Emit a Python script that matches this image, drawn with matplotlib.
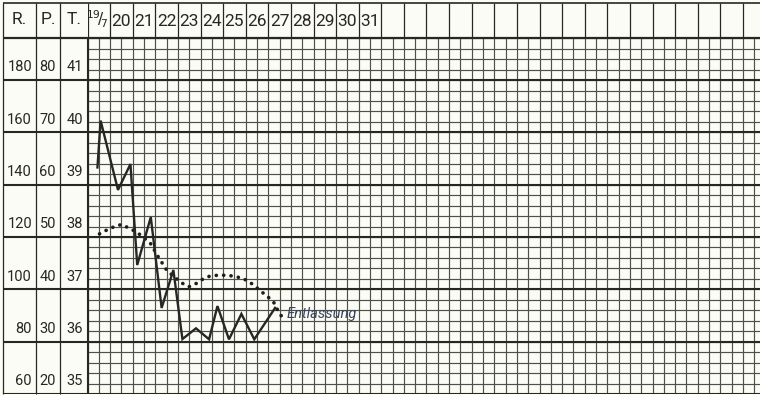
import numpy as np
import matplotlib.pyplot as plt

# header of the sheet
first_col = r'$^{19}\!/\!_{7}$'
day_labels = ['20', '21', '22', '23', '24', '25', '26', '27', '28', '29', '30', '31']
n_cols = 30

# scale columns on the left
r_ticks = [60, 80, 100, 120, 140, 160, 180]
p_ticks = [20, 30, 40, 50, 60, 70, 80]
t_ticks = [35, 36, 37, 38, 39, 40, 41]

# Temperatur (dotted curve); x = days from the start of 19/7
temp_x = [0.53, 0.79, 1.08, 1.50, 1.84, 2.19, 2.77, 3.16, 3.50, 3.83, 4.18, 4.49,
          4.85, 5.15, 5.46, 5.82, 6.17, 6.48, 6.88, 7.30, 7.77, 8.08, 8.30, 8.38, 8.58]
temp_y = [38.06, 38.12, 38.18, 38.24, 38.17, 38.09, 37.89, 37.60, 37.37, 37.24, 37.12, 37.05,
          37.12, 37.21, 37.26, 37.27, 37.27, 37.25, 37.21, 37.10, 36.93, 36.82, 36.72, 36.63, 36.49]

# Puls (solid curve), read on the R scale
puls_x = [0.44, 0.58, 1.35, 1.90, 2.20, 2.80, 3.28, 3.80, 4.20, 4.80, 5.38, 5.75,
          6.26, 6.81, 7.38, 8.30]
puls_r = [146.6, 164.5, 138.0, 147.9, 109.3, 127.6, 92.9, 107.4, 81.0, 85.1, 80.9, 93.6,
          80.9, 90.6, 80.9, 92.9]

note = 'Entlassung'
note_pos = (8.82, 36.53)


def r_to_t(r):
    # R 60..180 sits on T 35..41
    return 35 + (np.asarray(r) - 60) / 20.0


W, H = 760, 395
x0, col_w = 87.5, 22.6        # left edge of the day grid, px per day
y_top, y_head, y_bot = 3, 38.2, 394
t_top = 41.8
t_sheet_top = 35 + (y_bot - y_top) / 52.33

ink = '#28281f'
thin = '#50504a'
paper = '#fcfcf6'
narrow = ['Roboto', 'DejaVu Sans']

fig = plt.figure(figsize=(W / 100, H / 100), dpi=100)
fig.patch.set_facecolor(paper)

# main grid
ax = fig.add_axes([x0 / W, (H - y_bot) / H, (W - x0) / W, (y_bot - y_head) / H])
ax.set_xlim(0, (W - x0) / col_w)
ax.set_ylim(35, t_top)
ax.axis('off')
ax.vlines(np.arange(0, n_cols + 0.01, 0.5), 35, t_top, color=thin, lw=0.85, zorder=1)
ax.hlines(np.arange(35, t_top + 0.01, 0.2), 0, n_cols, color=thin, lw=0.85, zorder=1)
ax.hlines(t_ticks, 0, n_cols, color=ink, lw=1.5, zorder=2)
ax.hlines([t_top], 0, n_cols, color=ink, lw=1.6, zorder=2, clip_on=False)
ax.vlines([0], 35, t_top, color=ink, lw=1.5, zorder=2, clip_on=False)

ax.plot(temp_x, temp_y, color='#1e1e1e', lw=2.6, linestyle=(0, (0.05, 2.0)),
        dash_capstyle='round', zorder=4)
ax.plot(puls_x, r_to_t(puls_r), color='#262626', lw=1.7, solid_joinstyle='miter', zorder=5)
ax.text(note_pos[0], note_pos[1], note, family=narrow, style='italic', fontsize=10.5,
        color='#3a455c', ha='left', va='center', zorder=6)

# day header
axh = fig.add_axes([x0 / W, (H - y_head) / H, (W - x0) / W, (y_head - y_top) / H])
axh.set_xlim(ax.get_xlim())
axh.set_ylim(0, 1)
axh.axis('off')
axh.vlines(np.arange(0, n_cols + 1), 0, 1, color=ink, lw=0.9)
axh.hlines([1], 0, n_cols, color=ink, lw=1.2, clip_on=False)
axh.text(0.45, 0.55, first_col, fontsize=11, color=ink, ha='center', va='center')
for i, lab in enumerate(day_labels):
    axh.text(i + 1.5, 0.48, lab, family=narrow, fontsize=12.5, color=ink,
             ha='center', va='center')

# R / P / T columns
axl = fig.add_axes([y_top / W, (H - y_bot) / H, (x0 - y_top) / W, (y_bot - y_top) / H])
axl.set_xlim(y_top, x0)
axl.set_ylim(35, t_sheet_top)
axl.axis('off')
axl.vlines([y_top, 36, 60], 35, t_sheet_top, color=ink, lw=0.9, clip_on=False)
axl.hlines([t_sheet_top], y_top, x0, color=ink, lw=1.2, clip_on=False)
axl.hlines([t_top], y_top, x0, color=ink, lw=1.6)
axl.hlines(t_ticks, y_top, x0, color=ink, lw=1.5)
head_y = t_top + (t_sheet_top - t_top) * 0.52
for lab, xc in zip(['R.', 'P.', 'T.'], [19, 48, 74]):
    axl.text(xc, head_y, lab, family=narrow, fontsize=12.5, color=ink, ha='center', va='center')
for r, p, t in zip(r_ticks, p_ticks, t_ticks):
    yy = t + 0.24
    axl.text(32, yy, str(r), family=narrow, fontsize=10.5, color=ink, ha='right', va='center')
    axl.text(56, yy, str(p), family=narrow, fontsize=10.5, color=ink, ha='right', va='center')
    axl.text(83, yy, str(t), family=narrow, fontsize=10.5, color=ink, ha='right', va='center')

fig.savefig('out.png', dpi=100, facecolor=fig.get_facecolor())
